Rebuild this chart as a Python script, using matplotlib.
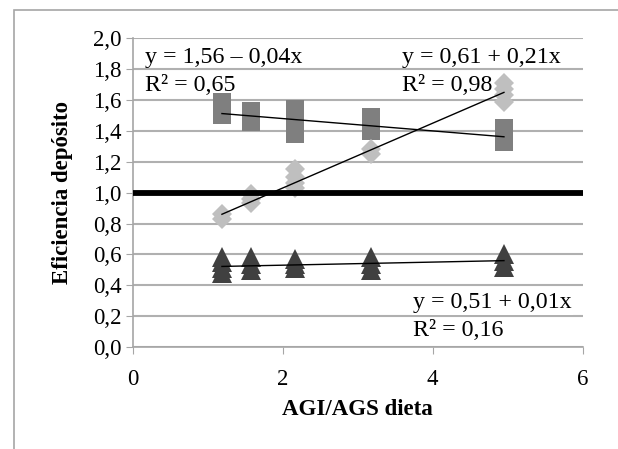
import matplotlib.pyplot as plt
import matplotlib.patches as patches
import numpy as np

plt.rcParams['font.family'] = ['Liberation Serif', 'DejaVu Serif']

# AGI/AGS dieta values of the five diets
sq_x = [1.19, 1.19, 1.19, 1.58, 1.58, 1.58, 2.17, 2.17, 2.17, 3.18, 3.18, 4.95, 4.95]
sq_y = [1.50, 1.55, 1.59, 1.46, 1.50, 1.53, 1.38, 1.45, 1.54, 1.40, 1.49, 1.33, 1.42]

dia_x = [1.19, 1.19, 1.58, 1.58, 1.58, 2.17, 2.17, 2.17, 2.17, 3.18, 3.18, 4.95, 4.95, 4.95, 4.95]
dia_y = [0.83, 0.86, 0.93, 0.96, 0.99, 1.03, 1.06, 1.10, 1.15, 1.25, 1.28, 1.59, 1.63, 1.67, 1.71]

tri_x = [1.19, 1.19, 1.19, 1.19, 1.58, 1.58, 1.58, 2.17, 2.17, 2.17, 3.18, 3.18, 3.18, 4.95, 4.95, 4.95]
tri_y = [0.48, 0.51, 0.55, 0.58, 0.50, 0.54, 0.58, 0.51, 0.54, 0.57, 0.50, 0.54, 0.58, 0.52, 0.56, 0.60]

# trend lines y = a + b x
trend_a = [1.56, 0.61, 0.51]
trend_b = [-0.04, 0.21, 0.01]
eq_text = ['y = 1,56 \u2013 0,04x', 'y = 0,61 + 0,21x', 'y = 0,51 + 0,01x']
r2_text = ['R\u00b2 = 0,65', 'R\u00b2 = 0,98', 'R\u00b2 = 0,16']
eq_pos = [(0.164, 1.838, 1.657), (3.587, 1.838, 1.657), (3.741, 0.252, 0.071)]

yticks = [0.0, 0.2, 0.4, 0.6, 0.8, 1.0, 1.2, 1.4, 1.6, 1.8, 2.0]
ylabels = ['0,0', '0,2', '0,4', '0,6', '0,8', '1,0', '1,2', '1,4', '1,6', '1,8', '2,0']
xticks = [0, 2, 4, 6]

fig = plt.figure(figsize=(6.18, 4.49), dpi=100)
ax = fig.add_axes([0.2147, 0.2272, 0.7282, 0.6875])

# chart area frame
fig.patches.append(patches.Rectangle((0.022, -0.1), 1.2, 0.1 + 0.978, transform=fig.transFigure,
                                     fill=False, edgecolor='#a6a6a6', lw=1.2))

ax.plot(sq_x, sq_y, 's', color='#7f7f7f', ms=12.4, mew=0, zorder=3)
ax.plot(dia_x, dia_y, 'D', color='#bfbfbf', ms=10.2, mew=0, zorder=3)
ax.plot(tri_x, tri_y, '^', color='#404040', ms=14.4, mew=0, zorder=3)

groups = [sq_x, dia_x, tri_x]
for i in range(3):
    xx = np.array([min(groups[i]), max(groups[i])])
    ax.plot(xx, trend_a[i] + trend_b[i] * xx, color='black', lw=1.0, zorder=4)

ax.axhline(0.995, color='black', lw=4.2, zorder=5)

for i in range(3):
    x0, y1, y2 = eq_pos[i]
    box = dict(facecolor='white', edgecolor='none', pad=1) if i == 2 else None
    ax.text(x0, y1, eq_text[i], fontsize=17.3, va='baseline', ha='left', zorder=6, bbox=box)
    ax.text(x0, y2, r2_text[i], fontsize=17.3, va='baseline', ha='left', zorder=6, bbox=box)

ax.set_xlim(0, 6)
ax.set_ylim(0, 2)
ax.set_yticks(yticks)
ax.set_yticklabels(ylabels)
ax.set_xticks(xticks)
ax.yaxis.grid(True, color='#b0b0b0', lw=1.5)
ax.set_axisbelow(True)
for s in ['top', 'right']:
    ax.spines[s].set_visible(False)
for s in ['left', 'bottom']:
    ax.spines[s].set_color('#a6a6a6')
    ax.spines[s].set_linewidth(1.2)
ax.tick_params(axis='y', length=5, color='#a6a6a6', labelsize=16.5, pad=3)
ax.tick_params(axis='x', length=5, color='#a6a6a6', labelsize=16.5, pad=11)

ax.set_xlabel('AGI/AGS dieta', fontsize=16.5, fontweight='bold')
ax.set_ylabel('Eficiencia dep\u00f3sito', fontsize=16.5, fontweight='bold')
ax.xaxis.set_label_coords(0.5, -0.204)
ax.xaxis.label.set_va('center')
ax.yaxis.set_label_coords(-0.157, 0.5)
ax.yaxis.label.set_va('center')

plt.savefig('out.png')
